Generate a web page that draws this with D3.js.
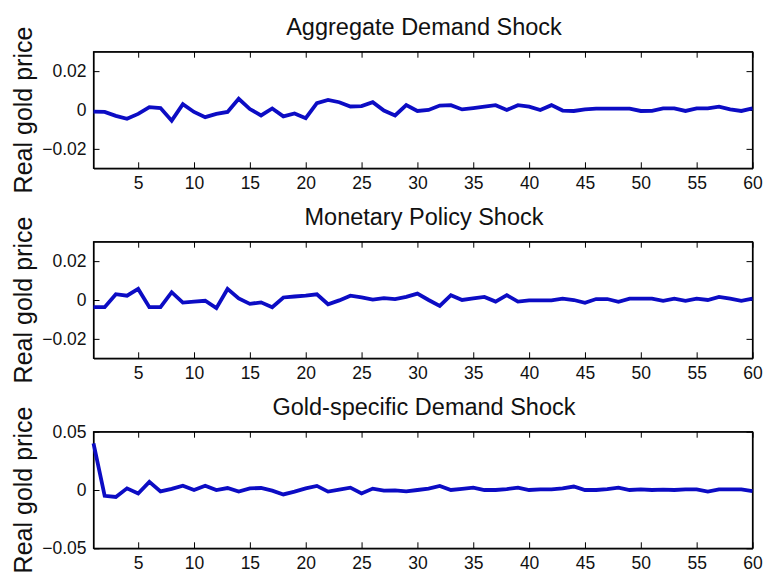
<!DOCTYPE html>
<html>
<head>
<meta charset="utf-8">
<script src="https://cdn.jsdelivr.net/npm/d3@7"></script>
<style>
  body { margin: 0; background: #fff; }
  text { font-family: "Liberation Sans", Arial, sans-serif; fill: #111; }
</style>
</head>
<body>
<div id="chart"></div>
<script>
// horizon (periods 1..60)
var periods = d3.range(1, 61);

var titles = [
  "Aggregate Demand Shock",
  "Monetary Policy Shock",
  "Gold-specific Demand Shock",
];

var aggregateDemand = [
  -0.0008, -0.001, -0.003, -0.0045, -0.002, 0.0015, 0.001, -0.0055, 0.003, -0.001,
  -0.0037, -0.002, -0.001, 0.0058, 0.0005, -0.0028, 0.0008, -0.0033, -0.0018, -0.0042,
  0.0035, 0.0052, 0.004, 0.0018, 0.002, 0.004, -0.0003, -0.0028, 0.0025, -0.0005,
  0, 0.0023, 0.0025, 0.0003, 0.001, 0.0017, 0.0025, 0, 0.0025, 0.0017,
  0, 0.0025, -0.0003, -0.0005, 0.0003, 0.0007, 0.0007, 0.0007, 0.0007, -0.0005,
  -0.0004, 0.0008, 0.0008, -0.0005, 0.0008, 0.0008, 0.0017, 0.0003, -0.0005, 0.0008,
];

var monetaryPolicy = [
  -0.0037, -0.0037, 0.003, 0.0022, 0.0057, -0.0037, -0.0037, 0.004, -0.0013, -0.0008,
  -0.0004, -0.0042, 0.0057, 0.0008, -0.002, -0.0012, -0.0037, 0.0013, 0.0018, 0.0022,
  0.0029, -0.0022, -0.0002, 0.0022, 0.0013, 0.0002, 0.001, 0.0005, 0.0016, 0.0033,
  0, -0.003, 0.0025, 0, 0.0008, 0.0016, -0.0008, 0.0025, -0.0008, -0.0002,
  -0.0002, -0.0002, 0.0007, 0, -0.0014, 0.0005, 0.0005, -0.0009, 0.0007, 0.0007,
  0.0007, -0.0004, 0.0007, -0.0004, 0.0007, 0, 0.0016, 0.0007, -0.0004, 0.0007,
];

var goldSpecific = [
  0.04, -0.005, -0.006, 0.0014, -0.003, 0.007, -0.0012, 0.001, 0.0037, 0,
  0.0037, 0, 0.0017, -0.0014, 0.0014, 0.0017, -0.0005, -0.0038, -0.0014, 0.0014,
  0.0035, -0.0014, 0.0003, 0.002, -0.003, 0.0012, -0.0006, -0.0003, -0.0012, 0,
  0.0012, 0.0035, 0, 0.001, 0.002, 0, 0, 0.0008, 0.002, 0,
  0.0005, 0.0005, 0.0014, 0.003, 0, 0, 0.0008, 0.002, 0, 0.0006,
  0, 0.0004, 0, 0.0005, 0.0005, -0.0014, 0.0006, 0.0006, 0.0006, -0.001,
];

var seriesList = [aggregateDemand, monetaryPolicy, goldSpecific];
var yDomains = [[-0.03, 0.03], [-0.03, 0.03], [-0.05, 0.05]];
var yTicks = [[-0.02, 0, 0.02], [-0.02, 0, 0.02], [-0.05, 0, 0.05]];
var xTicks = d3.range(5, 61, 5);
var yLabel = "Real gold price";

var width = 763,
  height = 573;
var left = 93.5,
  right = 752.5,
  panelTops = [51.7, 241.7, 431.7],
  panelH = 116.6,
  tickLen = 6;

var svg = d3
  .select("#chart")
  .append("svg")
  .attr("width", width)
  .attr("height", height);

var x = d3.scaleLinear().domain([1, 60]).range([left, right]);

seriesList.forEach(function (values, k) {
  var top = panelTops[k];
  var y = d3
    .scaleLinear()
    .domain(yDomains[k])
    .range([top + panelH, top]);

  var g = svg.append("g");

  // title
  g.append("text")
    .attr("x", (left + right) / 2 + 1)
    .attr("y", top - 17)
    .attr("text-anchor", "middle")
    .style("font-size", "23.5px")
    .text(titles[k]);

  // y label
  g.append("text")
    .attr("transform", "translate(32," + (top + panelH / 2) + ") rotate(-90)")
    .attr("text-anchor", "middle")
    .style("font-size", "25px")
    .text(yLabel);

  // axes: bottom, top, left, right, ticks pointing inside
  var fmtY = function (d) {
    return d === 0 ? "0" : d3.format(".2f")(d);
  };

  var bottomAxis = d3.axisBottom(x).tickValues(xTicks).tickSizeInner(-tickLen).tickSizeOuter(0).tickPadding(8);
  var topAxis = d3.axisTop(x).tickValues(xTicks).tickSizeInner(-tickLen).tickSizeOuter(0).tickFormat("");
  var leftAxis = d3.axisLeft(y).tickValues(yTicks[k]).tickSizeInner(-tickLen).tickSizeOuter(0).tickPadding(7).tickFormat(fmtY);
  var rightAxis = d3.axisRight(y).tickValues(yTicks[k]).tickSizeInner(-tickLen).tickSizeOuter(0).tickFormat("");

  g.append("g").attr("transform", "translate(0," + (top + panelH) + ")").call(bottomAxis);
  g.append("g").attr("transform", "translate(0," + top + ")").call(topAxis);
  g.append("g").attr("transform", "translate(" + left + ",0)").call(leftAxis);
  g.append("g").attr("transform", "translate(" + right + ",0)").call(rightAxis);

  g.selectAll(".tick text")
    .style("font-size", "17.5px")
    .style("font-family", '"Liberation Sans", Arial, sans-serif')
    .attr("fill", "#111");
  g.selectAll(".domain").attr("stroke", "#000").attr("stroke-width", 1.2);
  g.selectAll(".tick line").attr("stroke", "#000");

  // box
  g.append("rect")
    .attr("x", left)
    .attr("y", top)
    .attr("width", right - left)
    .attr("height", panelH)
    .attr("fill", "none")
    .attr("stroke", "#000")
    .attr("stroke-width", 1.2);

  // response line
  var line = d3
    .line()
    .x(function (d, i) {
      return x(periods[i]);
    })
    .y(function (d) {
      return y(d);
    });

  g.append("path")
    .datum(values)
    .attr("d", line)
    .attr("fill", "none")
    .attr("stroke", "#0c0cc4")
    .attr("stroke-width", 3.8)
    .attr("stroke-linejoin", "miter");
});
</script>
</body>
</html>
